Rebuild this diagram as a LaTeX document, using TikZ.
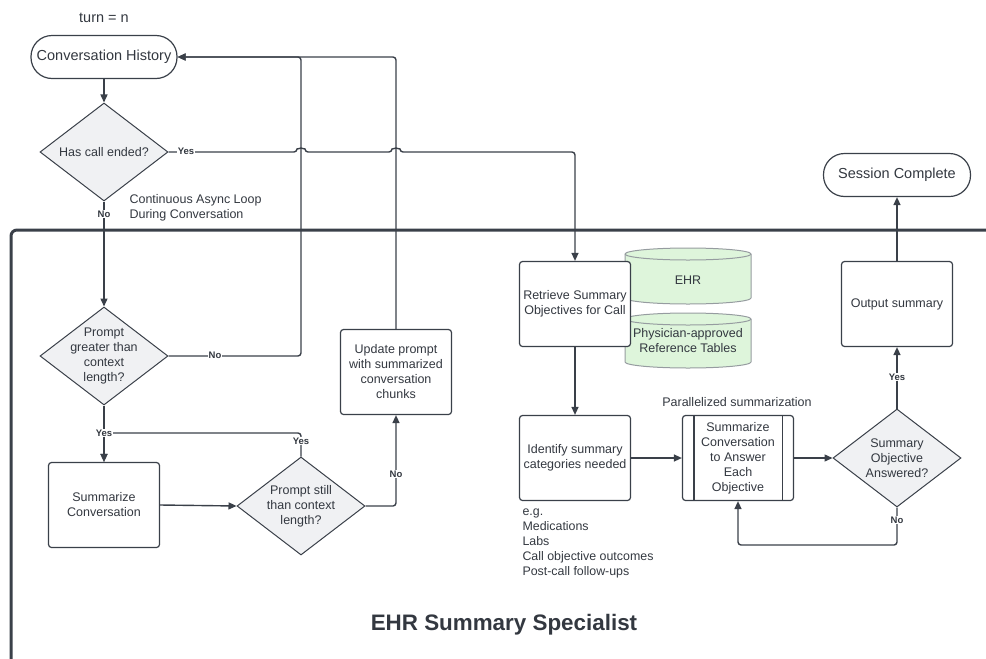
\documentclass[tikz,border=0pt]{standalone}
\usepackage{fontspec}
\setmainfont{Liberation Sans}
\usetikzlibrary{shapes.geometric,arrows.meta}
\definecolor{ln}{RGB}{58,64,73}
\definecolor{dfill}{RGB}{240,241,243}
\definecolor{cfill}{RGB}{222,245,219}
\definecolor{cline}{RGB}{150,156,160}
\definecolor{txt}{RGB}{51,56,64}
\begin{document}
\begin{tikzpicture}[x=1pt,y=1pt,
 every node/.style={text=txt, font=\fontsize{12.5}{15}\selectfont},
 box/.style={draw=ln, fill=white, line width=1.2pt, rounded corners=3pt, minimum width=111pt, minimum height=85pt, align=center, inner sep=2pt},
 dia/.style={diamond, draw=ln, fill=dfill, line width=1pt, minimum width=128pt, minimum height=98pt, inner sep=0pt},
 dtext/.style={align=center, font=\fontsize{12.5}{15}\selectfont},
 term/.style={draw=ln, fill=white, line width=1.2pt, rounded corners=21pt, minimum width=146pt, minimum height=43pt, font=\fontsize{14.5}{17}\selectfont},
 con/.style={draw=ln, line width=1.4pt, rounded corners=3pt},
 arr/.style={con, -{Triangle[length=8pt,width=7pt]}},
 lab/.style={font=\bfseries\fontsize{9.5}{11}\selectfont, fill=white, inner sep=1pt},
 cyl/.style={draw=cline, fill=cfill, line width=1pt},
]
\useasboundingbox (0,0) rectangle (986,-659);

% frame
\draw[ln, line width=3pt, rounded corners=6pt] (11,-230) rectangle (1010,-700);

% cylinders
\filldraw[cyl] (625,-254) -- (625,-298) arc[start angle=180,end angle=360,x radius=63,y radius=6] -- (751,-254) arc[start angle=0,end angle=180,x radius=63,y radius=6] -- cycle;
\draw[cyl, fill=none] (625,-254) arc[start angle=180,end angle=360,x radius=63,y radius=6];
\filldraw[cyl] (625,-319) -- (625,-362) arc[start angle=180,end angle=360,x radius=63,y radius=6] -- (751,-319) arc[start angle=0,end angle=180,x radius=63,y radius=6] -- cycle;
\draw[cyl, fill=none] (625,-319) arc[start angle=180,end angle=360,x radius=63,y radius=6];
\node (ehr) at (688,-280) {EHR};
\node[align=center] (phy) at (688,-341) {Physician-approved\\Reference Tables};

% nodes
\node[font=\fontsize{14.5}{17}\selectfont] (turn) at (104,-18) {turn = n};
\node[term] (ch) at (104,-57) {Conversation History};
\node[dia, label={[dtext]center:{Has call ended?}}] (hc) at (104,-152) {};
\node[dia, label={[dtext]center:{Prompt\\greater than\\context\\length?}}] (pg) at (104,-356) {};
\node[box] (sc) at (104,-505) {Summarize\\Conversation};
\node[dia, label={[dtext]center:{Prompt still\\than context\\length?}}] (ps) at (301,-506) {};
\node[box] (up) at (396,-372) {Update prompt\\with summarized\\conversation\\chunks};
\node[box] (rs) at (575,-304) {Retrieve Summary\\Objectives for Call};
\node[box] (id) at (575,-458) {Identify summary\\categories needed};
\node[box] (pz) at (738,-458) {Summarize\\Conversation\\to Answer\\Each\\Objective};
\draw[ln, line width=1.2pt] ([xshift=12pt]pz.north west) -- ([xshift=12pt]pz.south west);
\draw[ln, line width=1.2pt] ([xshift=-12pt]pz.north east) -- ([xshift=-12pt]pz.south east);
\node[dia, label={[dtext]center:{Summary\\Objective\\Answered?}}] (sa) at (897,-458) {};
\node[box] (os) at (897,-304) {Output summary};
\node[term, minimum width=147pt] (se) at (897,-175) {Session Complete};

% free texts
\node[anchor=west, align=left, font=\fontsize{12.5}{14.5}\selectfont] (cal) at (126,-208) {Continuous Async Loop\\During Conversation};
\node[anchor=north west, align=left, font=\fontsize{12.4}{15}\selectfont] (eg) at (519,-505) {e.g.\\Medications\\Labs\\Call objective outcomes\\Post-call follow-ups};
\node (par) at (737,-402) {Parallelized summarization};
\node[font=\bfseries\fontsize{22.4}{26}\selectfont] (title) at (504,-625) {EHR Summary Specialist};

% connectors
\draw[arr] (ch) -- (hc);
\draw[arr] (hc.east) -- (297,-152) arc[start angle=180,end angle=0,radius=4] -- (392,-152) arc[start angle=180,end angle=0,radius=4] -- (575,-152) -- (rs.north);
\node[lab] at (186,-151) {Yes};
\draw[arr] (hc.south) -- (pg.north);
\node[lab] at (104,-214) {No};
\draw[arr] (pg.east) -- (301,-356) -- (301,-57) -- (ch.east);
\node[lab] at (215,-355) {No};
\draw[arr] (up.north) -- (396,-57) -- (ch.east);
\draw[arr] (pg.south) -- (sc.north);
\draw[arr] (ps.north) -- (301,-433) -- (104,-433) -- (sc.north);
\node[lab] at (104,-433) {Yes};
\node[lab] at (301,-441) {Yes};
\draw[arr] (sc.east) -- (ps.west);
\draw[arr] (ps.east) -- (396,-506) -- (up.south);
\node[lab] at (396,-474) {No};
\draw[arr] (rs.south) -- (id.north);
\draw[arr] (id.east) -- (pz.west);
\draw[arr] (pz.east) -- (sa.west);
\draw[arr] (sa.north) -- (os.south);
\node[lab] at (897,-377) {Yes};
\draw[arr] (os.north) -- (se.south);
\draw[arr] (sa.south) -- (897,-545) -- (738,-545) -- (pz.south);
\node[lab] at (897,-520) {No};
\end{tikzpicture}
\end{document}
